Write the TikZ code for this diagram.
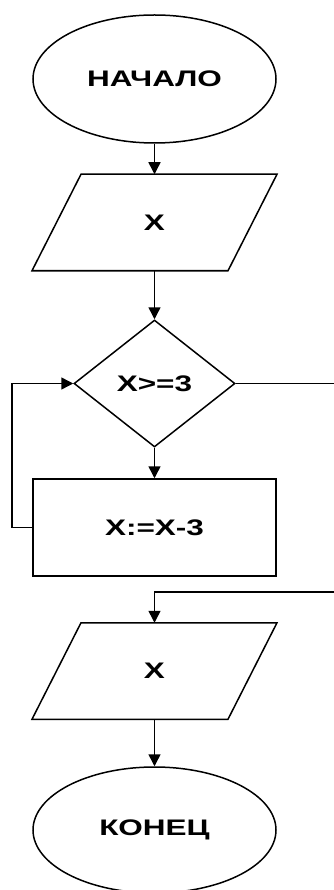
\documentclass[tikz,border=0pt]{standalone}
\usepackage{fontspec}
\usetikzlibrary{shapes.geometric,arrows.meta}
\newfontfamily\diafont[FakeStretch=1.4]{Liberation Sans}
\begin{document}
\begin{tikzpicture}[x=1pt,y=-1pt,
  line width=1.5pt,
  every node/.style={font=\diafont\bfseries\fontsize{22.5}{26}\selectfont, inner sep=0pt},
  term/.style={draw, ellipse, minimum width=243pt, minimum height=128pt},
  iobox/.style={minimum width=194.5pt, minimum height=95pt},
  decide/.style={draw, diamond, minimum width=161pt, minimum height=127pt},
  proc/.style={draw, rectangle, minimum width=243pt, minimum height=97pt},
  arr/.style={-{Triangle[length=12pt,width=12pt]}}]
\useasboundingbox (0,0) rectangle (334,890);
\node[term] (start) at (154.5,79) {НАЧАЛО};
\node[iobox] (in) at (154.5,222.5) {X};
\draw ([xshift=24.5pt]in.north west) -- ([xshift=24.5pt]in.north east) -- ([xshift=-24.5pt]in.south east) -- ([xshift=-24.5pt]in.south west) -- cycle;
\node[decide] (cond) at (154.5,383.5) {X>=3};
\node[proc] (body) at (154.5,527.5) {X:=X-3};
\node[iobox] (out) at (154.5,671) {X};
\draw ([xshift=24.5pt]out.north west) -- ([xshift=24.5pt]out.north east) -- ([xshift=-24.5pt]out.south east) -- ([xshift=-24.5pt]out.south west) -- cycle;
\node[term, minimum height=126pt] (stop) at (154.5,830) {КОНЕЦ};
\coordinate (cl) at (12,527.5);
\coordinate (cr) at (340,592);
\draw[arr] (start) -- (in.north);
\draw[arr] (in.south) -- (cond.north);
\draw[arr] (cond.south) -- (body.north);
\draw[arr] (body.west) -| (cl) |- (cond.west);
\draw[arr] (cond.east) -| (cr) -| (out.north);
\draw[arr] (out.south) -- (stop.north);
\end{tikzpicture}
\end{document}
